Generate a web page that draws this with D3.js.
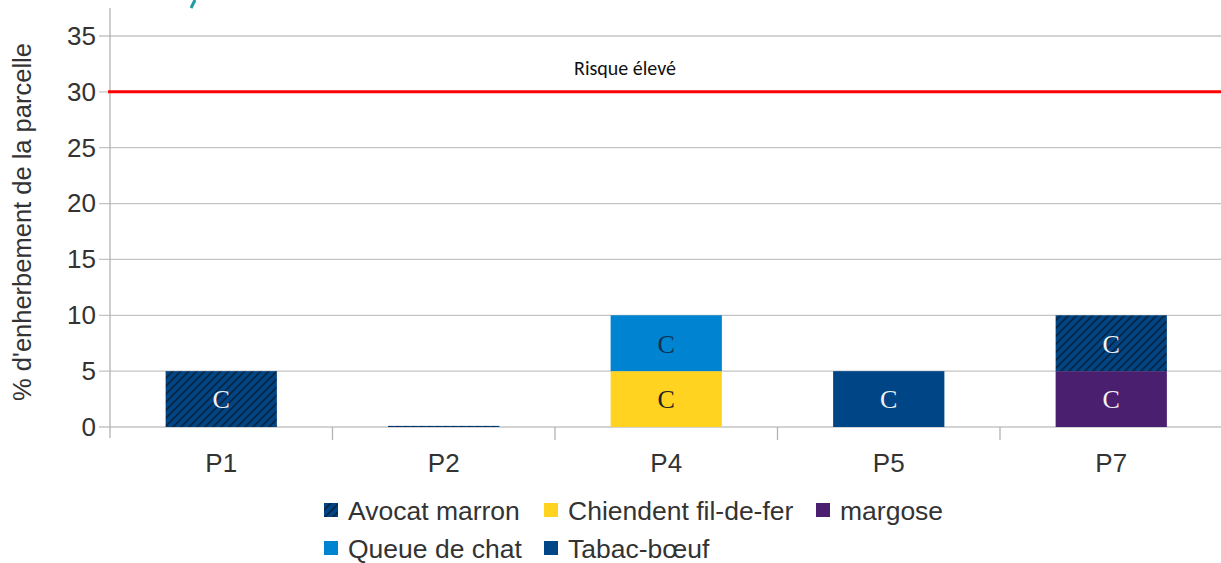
<!DOCTYPE html>
<html>
<head>
<meta charset="utf-8">
<script src="https://cdn.jsdelivr.net/npm/d3@7"></script>
<style>
  body { margin: 0; background: #fff; }
  svg { display: block; font-family: "Liberation Sans", Arial, sans-serif; }
</style>
</head>
<body>
<svg class="chart" width="1221" height="563"></svg>
<script>
// data
var categories = ["P1", "P2", "P4", "P5", "P7"];
var seriesNames = ["Avocat marron", "Chiendent fil-de-fer", "margose", "Queue de chat", "Tabac-bœuf"];
var stackOrder = ["Chiendent fil-de-fer", "margose", "Queue de chat", "Tabac-bœuf", "Avocat marron"];
var avocatMarron = [5, 0.1, 0, 0, 5];
var chiendent = [0, 0, 5, 0, 0];
var margose = [0, 0, 0, 0, 5];
var queueDeChat = [0, 0, 5, 0, 0];
var tabacBoeuf = [0, 0, 0, 5, 0];
var yTicks = [0, 5, 10, 15, 20, 25, 30, 35];
var thresholdValue = 30;
var thresholdLabel = "Risque élevé";
var segmentLabel = "C";

var colors = {
  "Avocat marron": "url(#hatch)",
  "Chiendent fil-de-fer": "#ffd320",
  "margose": "#4b1f6f",
  "Queue de chat": "#0084d1",
  "Tabac-bœuf": "#004586"
};
var labelColors = {
  "Avocat marron": "#f2f2f2",
  "Chiendent fil-de-fer": "#222",
  "margose": "#f2f2f2",
  "Queue de chat": "#10304f",
  "Tabac-bœuf": "#f2f2f2"
};

var data = categories.map(function(c, i) {
  return {
    name: c,
    "Avocat marron": avocatMarron[i],
    "Chiendent fil-de-fer": chiendent[i],
    "margose": margose[i],
    "Queue de chat": queueDeChat[i],
    "Tabac-bœuf": tabacBoeuf[i]
  };
});

var svg = d3.select("svg.chart");

// hatch pattern for Avocat marron
var pat = svg.append("defs").append("pattern")
    .attr("id", "hatch")
    .attr("patternUnits", "userSpaceOnUse")
    .attr("width", 8).attr("height", 8);
pat.append("rect").attr("width", 8).attr("height", 8).attr("fill", "#004586");
pat.append("path")
    .attr("d", "M-2,2 l4,-4 M0,8 l8,-8 M6,10 l4,-4")
    .attr("stroke", "#0a2440").attr("stroke-width", 1.6);

var x = d3.scaleBand()
    .domain(categories)
    .range([110, 1222.5])
    .paddingInner(0.5)
    .paddingOuter(0.25);

var y = d3.scaleLinear()
    .domain([0, 35])
    .range([427, 36]);

// gridlines
svg.append("g")
  .selectAll("line")
  .data(yTicks)
  .enter().append("line")
    .attr("x1", 99).attr("x2", 1221)
    .attr("y1", function(d) { return y(d); })
    .attr("y2", function(d) { return y(d); })
    .attr("stroke", "#c4c4c4").attr("stroke-width", 1.3);

// y axis
var yAxis = svg.append("g")
    .attr("transform", "translate(110,0)")
    .call(d3.axisLeft(y).tickValues(yTicks).tickSize(0).tickPadding(14));
yAxis.select(".domain").remove();
yAxis.selectAll("text")
    .attr("font-size", 26).attr("fill", "#333")
    .attr("font-family", "Liberation Sans, Arial, sans-serif");
svg.append("line")
    .attr("x1", 110).attr("x2", 110)
    .attr("y1", 8).attr("y2", 438)
    .attr("stroke", "#b3b3b3").attr("stroke-width", 1.3);

// x axis
var xAxis = svg.append("g")
    .attr("transform", "translate(0,427)")
    .call(d3.axisBottom(x).tickSize(0).tickPadding(27));
xAxis.select(".domain").remove();
xAxis.selectAll("text")
    .attr("font-size", 26).attr("fill", "#333")
    .attr("font-family", "Liberation Sans, Arial, sans-serif");
svg.append("g")
  .selectAll("line")
  .data(categories.slice(1))
  .enter().append("line")
    .attr("x1", function(d) { return x(d) - x.step() * x.paddingInner() / 2; })
    .attr("x2", function(d) { return x(d) - x.step() * x.paddingInner() / 2; })
    .attr("y1", 427).attr("y2", 440)
    .attr("stroke", "#b3b3b3").attr("stroke-width", 1.3);

// stacked bars
var stacked = d3.stack().keys(stackOrder)(data);
var layer = svg.append("g")
  .selectAll("g")
  .data(stacked)
  .enter().append("g")
    .attr("fill", function(d) { return colors[d.key]; });

layer.selectAll("rect")
  .data(function(d) { return d.filter(function(p) { return p[1] > p[0]; }); })
  .enter().append("rect")
    .attr("x", function(d) { return x(d.data.name); })
    .attr("y", function(d) { return y(d[1]); })
    .attr("height", function(d) { return y(d[0]) - y(d[1]); })
    .attr("width", x.bandwidth());

layer.each(function(s) {
  d3.select(this).selectAll("text")
    .data(s.filter(function(p) { return p[1] - p[0] >= 1; }))
    .enter().append("text")
      .attr("x", function(d) { return x(d.data.name) + x.bandwidth() / 2; })
      .attr("y", function(d) { return y((d[0] + d[1]) / 2); })
      .attr("dy", "0.36em")
      .attr("text-anchor", "middle")
      .attr("font-family", "Liberation Serif, Times New Roman, serif")
      .attr("font-size", 26)
      .attr("fill", labelColors[s.key])
      .text(segmentLabel);
});

// threshold line
svg.append("line")
    .attr("x1", 108).attr("x2", 1221)
    .attr("y1", y(thresholdValue)).attr("y2", y(thresholdValue))
    .attr("stroke", "#ff0000").attr("stroke-width", 3);
svg.append("text")
    .attr("x", 625).attr("y", 75)
    .attr("text-anchor", "middle")
    .attr("font-family", "Carlito, Open Sans, sans-serif")
    .attr("font-size", 20).attr("fill", "#111")
    .text(thresholdLabel);

// y axis title
svg.append("text")
    .attr("transform", "translate(31,222) rotate(-90)")
    .attr("text-anchor", "middle")
    .attr("font-size", 25.5).attr("fill", "#333")
    .text("% d'enherbement de la parcelle");

// cut-off title fragment at top
svg.append("path")
    .attr("d", "M195,0 L191,8")
    .attr("stroke", "#1b9aa0").attr("stroke-width", 3);

// legend
var legendRows = [seriesNames.slice(0, 3), seriesNames.slice(3)];
var legendX = [[348, 568, 840], [348, 568]];
legendRows.forEach(function(row, r) {
  var g = svg.append("g").attr("transform", "translate(0," + (510 + r * 38) + ")");
  var item = g.selectAll("g")
    .data(row)
    .enter().append("g")
      .attr("transform", function(d, i) { return "translate(" + legendX[r][i] + ",0)"; });
  item.append("rect")
      .attr("x", -24).attr("y", -7)
      .attr("width", 14).attr("height", 14)
      .attr("fill", function(d) { return colors[d]; });
  item.append("text")
      .attr("dy", "0.36em")
      .attr("font-size", 26.5).attr("fill", "#333")
      .text(function(d) { return d; });
});
</script>
</body>
</html>
